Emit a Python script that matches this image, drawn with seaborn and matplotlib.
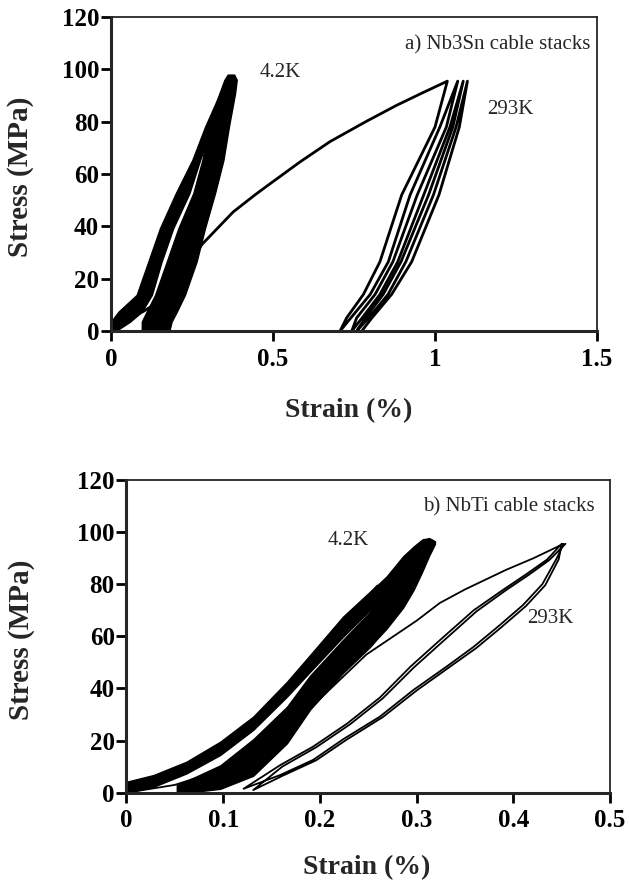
import matplotlib
matplotlib.use("Agg")
import matplotlib.pyplot as plt
import seaborn as sns

# ---------------- a) Nb3Sn cable stacks ----------------
# 4.2K: two thick bands of many cycles (edges, by stress)
a_lb_stress = [0, 3.6, 7.4, 13.8, 26.5, 39.3, 52.7, 65.4, 78, 90]
a_lb_left = [0.0, 0.0, 0.023, 0.079, 0.115, 0.151, 0.200, 0.251, 0.290, 0.333]
a_lb_right = [0.015, 0.059, 0.095, 0.126, 0.156, 0.192, 0.242, 0.275, 0.310, 0.350]

a_rb_stress = [0, 3.6, 7.4, 13.8, 26.5, 39.3, 52.7, 65.4, 78.2, 91, 96, 98]
a_rb_left = [0.095, 0.095, 0.110, 0.136, 0.172, 0.208, 0.254, 0.282, 0.300, 0.335, 0.350, 0.360]
a_rb_right = [0.180, 0.187, 0.203, 0.228, 0.264, 0.290, 0.321, 0.347, 0.364, 0.383, 0.388, 0.380]

# 293K: first loading, then unload / reload cycles
a_first_strain = [0, 0.045, 0.10, 0.156, 0.20, 0.25, 0.28, 0.342, 0.377, 0.444,
                  0.48, 0.583, 0.676, 0.789, 0.882, 0.954, 1.038]
a_first_stress = [0, 4.2, 7.5, 11.9, 18, 27, 33, 41, 45.5, 52,
                  55.3, 64.6, 72.4, 80.2, 86.3, 90.6, 95.5]

a_loop_stress = [0, 5, 14, 26.5, 52, 78, 95.5]
a_loop_1 = [0.707, 0.727, 0.779, 0.830, 0.897, 1.000, 1.038]
a_loop_2 = [0.707, 0.740, 0.800, 0.856, 0.923, 1.015, 1.070]
a_loop_3 = [0.743, 0.758, 0.815, 0.870, 0.945, 1.035, 1.070]
a_loop_4 = [0.743, 0.775, 0.830, 0.885, 0.965, 1.046, 1.087]
a_loop_5 = [0.758, 0.785, 0.840, 0.895, 0.980, 1.055, 1.087]
a_loop_6 = [0.758, 0.795, 0.855, 0.910, 0.995, 1.065, 1.100]
a_loop_7 = [0.774, 0.805, 0.866, 0.928, 1.012, 1.075, 1.100]

# ---------------- b) NbTi cable stacks ----------------
# 4.2K bands (edges, by strain)
b_ub_strain = [0.0, 0.028, 0.062, 0.097, 0.131, 0.166, 0.190, 0.224, 0.252, 0.259]
b_ub_low = [0, 2.3, 7.4, 14.5, 24.1, 36.9, 46.5, 59.9, 70.2, 73]
b_ub_high = [4.2, 6.8, 11.9, 19.6, 29.2, 42.6, 52.9, 67.6, 77.2, 79.8]

b_lb_strain = [0.052, 0.062, 0.097, 0.131, 0.166, 0.190, 0.224, 0.252, 0.259,
               0.269, 0.286, 0.297, 0.306, 0.313, 0.319]
b_lb_low = [0, 0, 1.5, 6.5, 19, 32, 46, 56, 59, 63, 71, 77.9, 85, 91, 95.5]
b_lb_high = [3, 4.5, 10.5, 20.5, 33, 45, 58.7, 69.5, 79.5, 83, 90.7, 94.5, 97.2, 97.7, 96.5]

# 293K: first loading and two cycles
b_first_strain = [0, 0.05, 0.10, 0.15, 0.20, 0.248, 0.30, 0.324, 0.35, 0.393, 0.421, 0.452]
b_first_stress = [0, 3, 9, 20, 36, 53, 66, 72.8, 78, 85.6, 90, 95.5]

b_unload1_strain = [0.121, 0.159, 0.193, 0.224, 0.262, 0.297, 0.331, 0.359, 0.385, 0.410, 0.430, 0.445, 0.452]
b_unload1_stress = [1.5, 6.8, 12.6, 20.5, 29.2, 39.5, 48.4, 56, 64, 72, 80, 90, 95.5]
b_load1_strain = [0.121, 0.159, 0.193, 0.228, 0.262, 0.294, 0.324, 0.359, 0.390, 0.414, 0.435, 0.450]
b_load1_stress = [1.5, 10.6, 17.7, 26.5, 36.5, 48.5, 58.5, 70, 78, 84, 89.5, 95.5]
b_unload2_strain = [0.131, 0.162, 0.196, 0.227, 0.265, 0.300, 0.334, 0.362, 0.388, 0.413, 0.433, 0.447, 0.450]
b_unload2_stress = [1.0, 6.6, 12.4, 20.2, 29.0, 39.2, 48.2, 55.6, 63.6, 71.6, 79.6, 89.6, 95.5]
b_load2_strain = [0.131, 0.161, 0.196, 0.231, 0.265, 0.297, 0.327, 0.362, 0.392, 0.416, 0.437, 0.454]
b_load2_stress = [1.0, 10.0, 17.4, 26.2, 36.2, 48.0, 58.0, 69.6, 77.6, 83.6, 89.2, 95.5]

sns.set_style("ticks")
plt.rcParams["font.family"] = ["Liberation Serif", "DejaVu Serif"]

fig = plt.figure(figsize=(6.29, 8.92), dpi=100)
ax_a = fig.add_axes([0.1765, 0.6289, 0.7727, 0.352])
ax_b = fig.add_axes([0.2011, 0.1113, 0.7687, 0.3506])

# --- panel a ---
ax_a.fill_betweenx(a_lb_stress, a_lb_left, a_lb_right, color="black", lw=1)
ax_a.fill_betweenx(a_rb_stress, a_rb_left, a_rb_right, color="black", lw=1)

path_x, path_y = list(a_first_strain), list(a_first_stress)
for i, br in enumerate([a_loop_1, a_loop_2, a_loop_3, a_loop_4, a_loop_5, a_loop_6, a_loop_7]):
    if i % 2 == 0:
        path_x += br[::-1]
        path_y += a_loop_stress[::-1]
    else:
        path_x += br
        path_y += a_loop_stress
sns.lineplot(x=path_x, y=path_y, sort=False, estimator=None, color="black", lw=2.0, ax=ax_a)

# --- panel b ---
ax_b.fill_between(b_ub_strain, b_ub_low, b_ub_high, color="black", lw=1)
ax_b.fill_between(b_lb_strain, b_lb_low, b_lb_high, color="black", lw=1)

bx = b_first_strain + b_unload1_strain[::-1] + b_load1_strain + b_unload2_strain[::-1] + b_load2_strain
by = b_first_stress + b_unload1_stress[::-1] + b_load1_stress + b_unload2_stress[::-1] + b_load2_stress
sns.lineplot(x=bx, y=by, sort=False, estimator=None, color="black", lw=1.3, ax=ax_b)


def style(ax, xticks, xlabels, xlim, ylab_xy, xlab_xy):
    ax.set_xlim(*xlim)
    ax.set_ylim(0, 120)
    ax.set_xticks(xticks)
    ax.set_xticklabels(xlabels)
    ax.set_yticks(range(0, 121, 20))
    for s in ["left", "bottom"]:
        ax.spines[s].set_linewidth(2.2)
    for s in ["top", "right"]:
        ax.spines[s].set_visible(True)
        ax.spines[s].set_linewidth(1.3)
    ax.tick_params(direction="out", length=7, width=2, labelsize=18, colors="black")
    ax.tick_params(axis="y", pad=1.5)
    ax.tick_params(axis="x", pad=5)
    for lbl in ax.get_xticklabels() + ax.get_yticklabels():
        lbl.set_fontweight("bold")
    ax.set_xlabel("Strain (%)", fontsize=20, fontweight="bold", va="center")
    ax.set_ylabel("Stress (MPa)", fontsize=21, fontweight="bold", va="center")
    ax.yaxis.set_label_coords(*ylab_xy)
    ax.xaxis.set_label_coords(*xlab_xy)


style(ax_a, [0, 0.5, 1, 1.5], ["0", "0.5", "1", "1.5"], (0, 1.5), (-0.187, 0.49), (0.488, -0.252))
style(ax_b, [0, 0.1, 0.2, 0.3, 0.4, 0.5], ["0", "0.1", "0.2", "0.3", "0.4", "0.5"], (0, 0.5),
      (-0.218, 0.488), (0.497, -0.241))

ax_a.text(1.478, 109.5, "a) Nb3Sn cable stacks", ha="right", va="center", fontsize=15)
ax_a.text(0.46, 98.7, "4.2K", ha="left", va="center", fontsize=15)
ax_a.text(1.16, 84.6, "293K", ha="left", va="center", fontsize=15)

ax_b.text(0.4845, 109.8, "b) NbTi cable stacks", ha="right", va="center", fontsize=15)
ax_b.text(0.208, 96.7, "4.2K", ha="left", va="center", fontsize=15)
ax_b.text(0.414, 67, "293K", ha="left", va="center", fontsize=15)

fig.savefig("out.png", dpi=100)
